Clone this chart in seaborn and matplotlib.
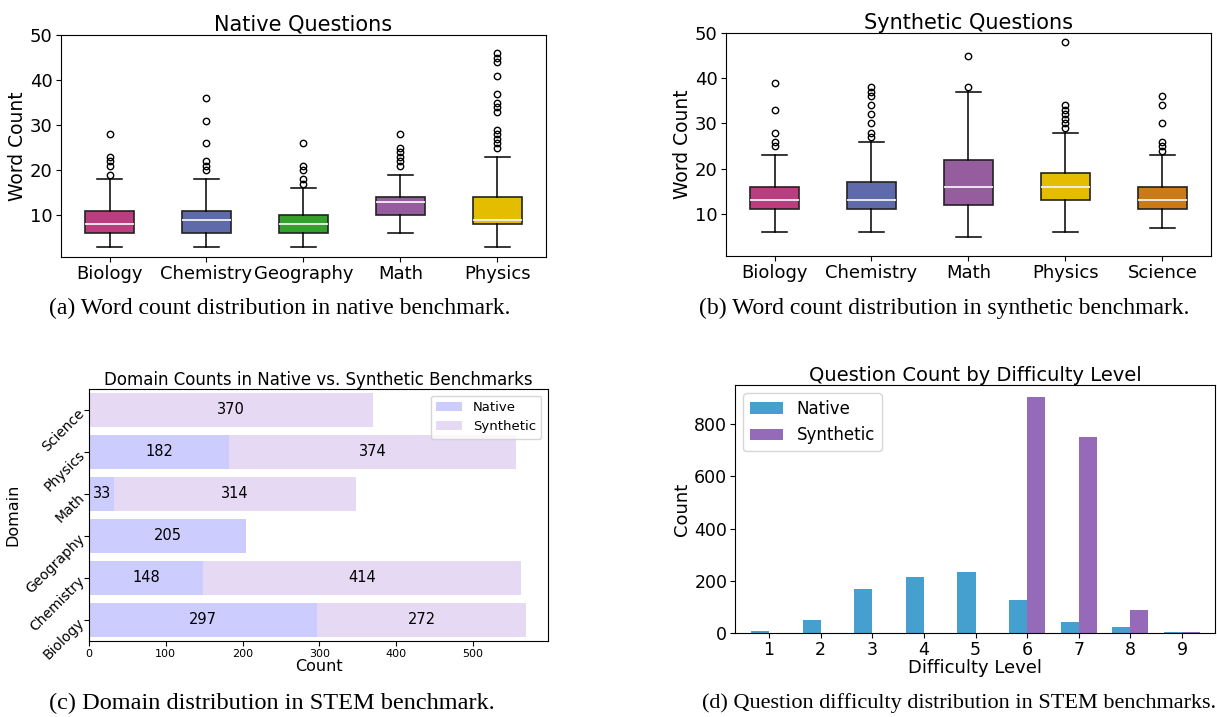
import matplotlib
matplotlib.use("Agg")
import matplotlib.pyplot as plt
import numpy as np
import pandas as pd
import seaborn as sns

# ---------------------------------------------------------------------------
# Word-count box statistics (whisker low, Q1, median, Q3, whisker high, fliers)
# ---------------------------------------------------------------------------
native_domains = ["Biology", "Chemistry", "Geography", "Math", "Physics"]
native_whislo = [3, 3, 3, 6, 3]
native_q1 = [6, 6, 6, 10, 8]
native_med = [8, 9, 8, 13, 9]
native_q3 = [11, 11, 10, 14, 14]
native_whishi = [18, 18, 16, 19, 23]
native_fliers = [
    [19, 21, 22, 23, 28],
    [20, 21, 22, 26, 31, 36],
    [17, 18, 20, 21, 26],
    [21, 22, 23, 24, 25, 28],
    [25, 26, 27, 28, 29, 33, 34, 35, 37, 41, 44, 45, 46],
]

synth_domains = ["Biology", "Chemistry", "Math", "Physics", "Science"]
synth_whislo = [6, 6, 5, 6, 7]
synth_q1 = [11, 11, 12, 13, 11]
synth_med = [13, 13, 16, 16, 13]
synth_q3 = [16, 17, 22, 19, 16]
synth_whishi = [23, 26, 37, 28, 23]
synth_fliers = [
    [25, 26, 28, 33, 39],
    [27, 28, 30, 32, 34, 36, 37, 38],
    [38, 45],
    [29, 30, 31, 32, 33, 34, 48],
    [24, 25, 26, 30, 34, 36],
]

domain_colors = {
    "Biology": "#b93d7f",
    "Chemistry": "#5f6aab",
    "Geography": "#33a02c",
    "Math": "#955c9e",
    "Physics": "#e4bc00",
    "Science": "#ca7a16",
}

# ---------------------------------------------------------------------------
# Domain counts per benchmark
# ---------------------------------------------------------------------------
count_domains = ["Biology", "Chemistry", "Geography", "Math", "Physics", "Science"]
count_native = [297, 148, 205, 33, 182, 0]
count_synthetic = [272, 414, 0, 314, 374, 370]

# ---------------------------------------------------------------------------
# Question counts by difficulty level
# ---------------------------------------------------------------------------
levels = [1, 2, 3, 4, 5, 6, 7, 8, 9]
level_native = [7, 50, 170, 215, 235, 127, 42, 22, 3]
level_synthetic = [0, 0, 0, 0, 0, 905, 750, 88, 4]

W, H = 1217, 717
fig = plt.figure(figsize=(W / 100, H / 100), dpi=100)


def px_axes(left, top, right, bottom):
    return fig.add_axes([left / W, 1 - bottom / H, (right - left) / W, (bottom - top) / H])


def draw_box(ax, domains, lo, q1, med, q3, hi, fliers, title):
    stats = []
    for i, d in enumerate(domains):
        stats.append(dict(label=d, whislo=lo[i], q1=q1[i], med=med[i], q3=q3[i],
                          whishi=hi[i], fliers=fliers[i]))
    bp = ax.bxp(stats, widths=0.5, patch_artist=True, showfliers=True,
                boxprops=dict(edgecolor="#222222", linewidth=1.2),
                medianprops=dict(color="#f2f2f2", linewidth=1.3),
                whiskerprops=dict(color="black", linewidth=1.1),
                capprops=dict(color="black", linewidth=1.1),
                flierprops=dict(marker="o", markerfacecolor="none",
                                markeredgecolor="black", markersize=4.6,
                                markeredgewidth=1.0))
    for patch, d in zip(bp["boxes"], domains):
        patch.set_facecolor(domain_colors[d])
    ax.set_ylim(0.7, 50)
    ax.set_yticks([10, 20, 30, 40, 50])
    ax.set_title(title, fontsize=15, pad=3)
    ax.set_ylabel("Word Count", fontsize=13.5, labelpad=2)
    ax.tick_params(labelsize=13, pad=2.5)


# (a) native word counts
ax_a = px_axes(61, 35, 546, 257)
draw_box(ax_a, native_domains, native_whislo, native_q1, native_med, native_q3,
         native_whishi, native_fliers, "Native Questions")

# (b) synthetic word counts
ax_b = px_axes(726, 33, 1211, 256)
draw_box(ax_b, synth_domains, synth_whislo, synth_q1, synth_med, synth_q3,
         synth_whishi, synth_fliers, "Synthetic Questions")

# (c) stacked domain counts
ax_c = px_axes(89, 389, 548, 641)
native_color = "#ccccff"
synth_color = "#e6d9f3"
order = count_domains[::-1]
df_counts = pd.DataFrame({"Domain": count_domains,
                          "Native": count_native,
                          "Synthetic": count_synthetic})
df_counts["Total"] = df_counts["Native"] + df_counts["Synthetic"]
sns.barplot(data=df_counts, y="Domain", x="Total", order=order, color=synth_color,
            saturation=1, width=0.8, ax=ax_c, label="Synthetic")
sns.barplot(data=df_counts, y="Domain", x="Native", order=order, color=native_color,
            saturation=1, width=0.8, ax=ax_c, label="Native")
for i, d in enumerate(order):
    row = df_counts[df_counts["Domain"] == d].iloc[0]
    n, s = row["Native"], row["Synthetic"]
    if n > 0:
        ax_c.text(n / 2, i, str(n), ha="center", va="center", fontsize=10.5)
    if s > 0:
        ax_c.text(n + s / 2, i, str(s), ha="center", va="center", fontsize=10.5)
ax_c.set_title("Domain Counts in Native vs. Synthetic Benchmarks", fontsize=12, pad=3)
ax_c.set_xlabel("Count", fontsize=11.5, labelpad=0)
ax_c.set_ylabel("Domain", fontsize=11.5, labelpad=2)
ax_c.tick_params(axis="x", labelsize=8, pad=2)
ax_c.tick_params(axis="y", labelsize=10, pad=2)
for lbl in ax_c.get_yticklabels():
    lbl.set_rotation(45)
    lbl.set_ha("right")
    lbl.set_rotation_mode("anchor")
h, l = ax_c.get_legend_handles_labels()
hd = dict(zip(l, h))
ax_c.legend([hd["Native"], hd["Synthetic"]], ["Native", "Synthetic"],
            loc="upper right", fontsize=9.5)

# (d) grouped difficulty counts
ax_d = px_axes(735, 385, 1215, 633)
df_levels = pd.DataFrame({
    "Difficulty Level": levels * 2,
    "Count": level_native + level_synthetic,
    "Set": ["Native"] * len(levels) + ["Synthetic"] * len(levels),
})
sns.barplot(data=df_levels, x="Difficulty Level", y="Count", hue="Set",
            palette={"Native": "#45a0cf", "Synthetic": "#956bb9"},
            saturation=1, width=0.7, gap=0, ax=ax_d)
ax_d.set_xlim(-0.66, 8.64)
h, l = ax_d.get_legend_handles_labels()
ax_d.legend(h, l, loc="upper left", fontsize=12)
ax_d.set_title("Question Count by Difficulty Level", fontsize=14, pad=3)
ax_d.set_xlabel("Difficulty Level", fontsize=13, labelpad=0)
ax_d.set_ylabel("Count", fontsize=13, labelpad=2)
ax_d.set_yticks([0, 200, 400, 600, 800])
ax_d.tick_params(labelsize=12.5, pad=2)

# captions
cap_font = dict(family="Liberation Serif", ha="center", va="center")
fig.text(280 / W, 1 - 308 / H, "(a) Word count distribution in native benchmark.",
         fontsize=17, **cap_font)
fig.text(944 / W, 1 - 308 / H, "(b) Word count distribution in synthetic benchmark.",
         fontsize=17, **cap_font)
fig.text(272 / W, 1 - 703 / H, "(c) Domain distribution in STEM benchmark.",
         fontsize=17.5, **cap_font)
fig.text(959 / W, 1 - 703 / H, "(d) Question difficulty distribution in STEM benchmarks.",
         fontsize=16, **cap_font)

fig.savefig("out.png", dpi=100)
